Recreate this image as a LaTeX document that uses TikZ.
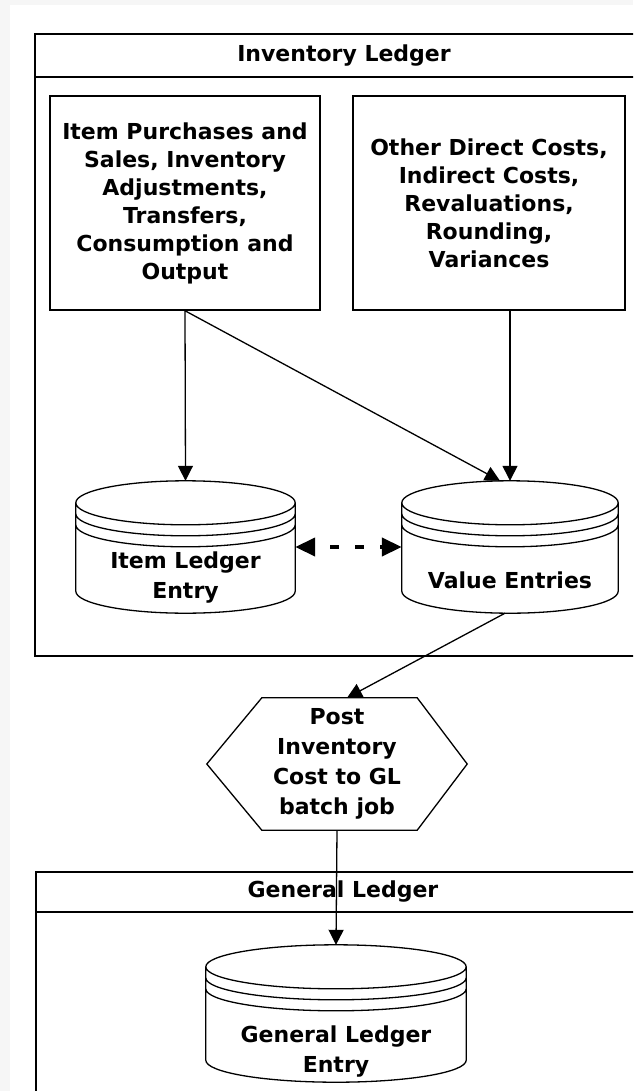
\documentclass[tikz,border=0pt]{standalone}
\usepackage{fontspec}
\setmainfont{DejaVu Sans}
\usetikzlibrary{arrows.meta,calc}

% database drum drawn round an empty frame node
\newcommand{\ledgerdb}[1]{%
  \draw[dbline] let \p1=(#1.north west), \p2=(#1.north east), \n1={(\x2-\x1)/2} in
    ([yshift=-22pt]#1.north west) arc[start angle=180, end angle=0, x radius=\n1, y radius=22pt]
    -- ([yshift=22pt]#1.south east) arc[start angle=0, end angle=-180, x radius=\n1, y radius=22pt] -- cycle
    ([yshift=-22pt]#1.north east) arc[start angle=0, end angle=-180, x radius=\n1, y radius=22pt]
    ([yshift=-33pt]#1.north east) arc[start angle=0, end angle=-180, x radius=\n1, y radius=22pt]
    ([yshift=-44pt]#1.north east) arc[start angle=0, end angle=-180, x radius=\n1, y radius=22pt];
}

\begin{document}
\begin{tikzpicture}[x=1pt, y=-1pt, font=\bfseries\fontsize{22}{28}\selectfont]
    % Define styles
    \tikzstyle{lane} = [draw, line width=1.5pt]
    \tikzstyle{source} = [draw, line width=1.5pt, minimum height=214pt, align=center, inner sep=0pt]
    \tikzstyle{dbframe} = [inner sep=0pt, minimum height=132pt]
    \tikzstyle{dbtext} = [align=center, inner sep=0pt, font=\bfseries\fontsize{22}{30}\selectfont]
    \tikzstyle{dbline} = [line width=1.3pt]
    \tikzstyle{arrow} = [-{Triangle[length=15pt,width=15pt]}, line width=1.3pt]
    \tikzstyle{link} = [{Triangle[length=20pt,width=18pt]}-{Triangle[length=20pt,width=18pt]}, line width=4pt, dash pattern=on 9pt off 16pt, dash phase=9pt]

    \useasboundingbox (0,0) rectangle (633,1091);
    \clip (0,0) rectangle (633,1091);
    \fill[gray!7] (0,0) rectangle (633,1091);
    \fill[white] (10,5) rectangle (633,1091);

    % Inventory Ledger lane
    \draw[lane] (35,34) rectangle (655,656);
    \draw[lane] (35,77) -- (655,77);
    \node (invtitle) at (344,56) {Inventory Ledger};

    % Sources
    \node[source, minimum width=270pt] (src) at (185,203) {Item Purchases and\\Sales, Inventory\\Adjustments,\\Transfers,\\Consumption and\\Output};
    \node[source, minimum width=272pt] (oth) at (489,203) {Other Direct Costs,\\Indirect Costs,\\Revaluations,\\Rounding,\\Variances};

    % Ledger entries
    \node[dbframe, minimum width=219pt] (ile) at (185.5,547) {};
    \node[dbframe, minimum width=216pt] (val) at (510,547) {};
    \ledgerdb{ile}
    \ledgerdb{val}
    \node[dbtext] (iletxt) at (185.5,578) {Item Ledger\\Entry};
    \node[dbtext] (valtxt) at (510,580) {Value Entries};

    % Batch job
    \node[dbtext, minimum width=260pt, minimum height=132pt] (hex) at (337,764) {Post\\Inventory\\Cost to GL\\batch job};
    \draw[dbline] (hex.west) -- ([xshift=55pt]hex.north west) -- ([xshift=-50pt]hex.north east)
        -- (hex.east) -- ([xshift=-50pt]hex.south east) -- ([xshift=55pt]hex.south west) -- cycle;

    % General Ledger lane
    \draw[lane] (36,872) rectangle (655,1110);
    \draw[lane] (36,912) -- (655,912);
    \node (gltitle) at (343,892) {General Ledger};
    \node[dbframe, minimum width=260pt, minimum height=137pt] (gle) at (336,1013.5) {};
    \ledgerdb{gle}
    \node[dbtext] (gletxt) at (336,1052) {General Ledger\\Entry};

    % Arrows
    \draw[arrow] (src.south) -- (ile.north);
    \draw[arrow] (src.south) -- ([xshift=-10pt]val.north);
    \draw[arrow] (oth.south -| val.north) -- (val.north);
    \draw[link] (ile.east) -- (val.west);
    \draw[arrow] ([xshift=-5pt]val.south) -- ([xshift=10pt]hex.north);
    \draw[arrow] (hex.south) -- (gle.north);

\end{tikzpicture}
\end{document}
